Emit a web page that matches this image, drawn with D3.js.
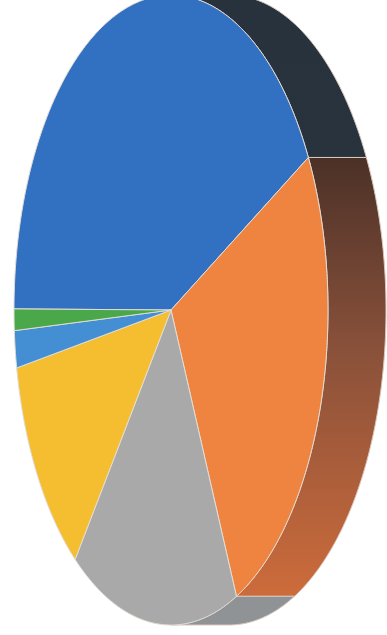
<!DOCTYPE html>
<html>
<head>
<meta charset="utf-8">
<script src="https://cdn.jsdelivr.net/npm/d3@7"></script>
<style>
  html, body { margin: 0; padding: 0; background: #ffffff; }
  svg { display: block; }
</style>
</head>
<body>
<div id="chart"></div>
<script>
// ---- data ----
const categories = ["Category 1", "Category 2", "Category 3", "Category 4", "Category 5", "Category 6"];
const values = [41.9, 26.2, 17.3, 11.6, 1.9, 1.1];

// ---- styles ----
const faceColors = ["#3271c1", "#ee843f", "#a8a9a8", "#f5be30", "#448ed4", "#4aa84b"];
const wallStops = [
  [[0, "#27323d"], [1, "#2a3540"]],
  [[0.25, "#4a3027"], [0.55, "#87503a"], [0.95, "#cc6b3b"]],
  [[0, "#8c9093"], [1, "#8f9396"]],
  [[0, "#8a6a20"], [1, "#c99a25"]],
  [[0, "#2a4a70"], [1, "#3a6ea8"]],
  [[0, "#2a5a2a"], [1, "#3a853a"]]
];

const W = 387, H = 635;
const cx = 171, cy = 310, rx = 157, ry = 315, depth = 58;
const startDeg = -89.8;

const svg = d3.select("#chart").append("svg")
  .attr("width", W).attr("height", H);

const defs = svg.append("defs");
wallStops.forEach((stops, i) => {
  const g = defs.append("linearGradient")
    .attr("id", "wall" + i)
    .attr("gradientUnits", "userSpaceOnUse")
    .attr("x1", 0).attr("x2", 0)
    .attr("y1", cy - ry).attr("y2", cy + ry);
  stops.forEach(s => g.append("stop").attr("offset", s[0]).attr("stop-color", s[1]));
});

const start = startDeg * Math.PI / 180;
const pie = d3.pie().sort(null).value(d => d)
  .startAngle(start).endAngle(start + 2 * Math.PI);
const arcs = pie(values);

const pt = (a, off) => [cx + off + rx * Math.sin(a), cy - ry * Math.cos(a)];
const samples = (a0, a1) => {
  const n = Math.max(2, Math.ceil(Math.abs(a1 - a0) / 0.01));
  return d3.range(n + 1).map(k => a0 + (a1 - a0) * k / n);
};
const line = d3.line();

// walls (visible right half: sin(a) > 0)
const wallG = svg.append("g");
arcs.forEach((d, i) => {
  for (let k = -1; k <= 1; k++) {
    const lo = Math.max(d.startAngle, 2 * Math.PI * k);
    const hi = Math.min(d.endAngle, 2 * Math.PI * k + Math.PI);
    if (hi > lo) {
      const front = samples(lo, hi).map(a => pt(a, 0));
      const back = samples(hi, lo).map(a => pt(a, depth));
      wallG.append("path")
        .attr("d", line(front.concat(back)) + "Z")
        .attr("fill", "url(#wall" + i + ")")
        .attr("stroke", "#d8c8bc")
        .attr("stroke-width", 1)
        .attr("stroke-linejoin", "round");
    }
  }
});

// face
const faceG = svg.append("g");
arcs.forEach((d, i) => {
  const pts = [[cx, cy]].concat(samples(d.startAngle, d.endAngle).map(a => pt(a, 0)));
  faceG.append("path")
    .attr("d", line(pts) + "Z")
    .attr("fill", faceColors[i])
    .attr("stroke", "#e2dcd4")
    .attr("stroke-width", 1)
    .attr("stroke-linejoin", "round")
    .append("title").text(categories[i] + ": " + values[i]);
});
</script>
</body>
</html>
